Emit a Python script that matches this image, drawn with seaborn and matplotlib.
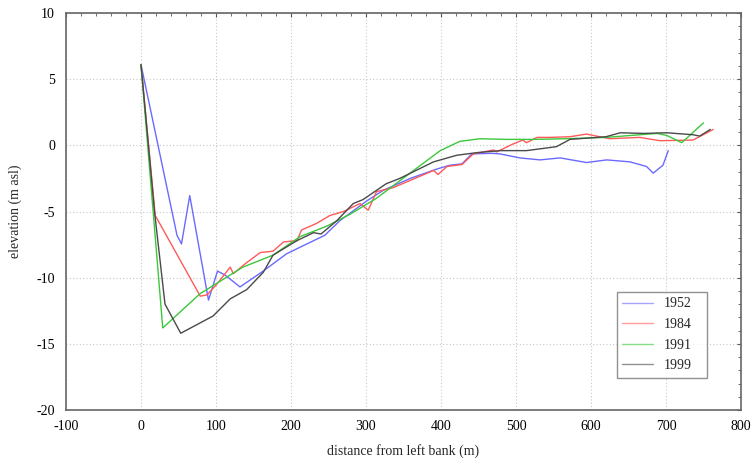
import numpy as np
import pandas as pd
import matplotlib
matplotlib.use("Agg")
import matplotlib.pyplot as plt
from matplotlib.ticker import MultipleLocator
import seaborn as sns

# Cross-section profiles: distance from left bank (m) and elevation (m asl)
x_1952 = [0, 48, 54, 65, 90, 102, 112, 132, 163, 194, 212, 234, 245, 265, 301, 323,
          359, 394, 412, 428, 441, 468, 479, 505, 532, 559, 594, 621, 652, 674, 683, 696, 703]
y_1952 = [6.1, -6.8, -7.45, -3.8, -11.7, -9.5, -9.8, -10.7, -9.5, -8.2, -7.7, -7.1, -6.8, -5.7,
          -4.2, -3.4, -2.5, -1.8, -1.5, -1.4, -0.65, -0.6, -0.65, -0.95, -1.1, -0.95, -1.3,
          -1.1, -1.25, -1.6, -2.1, -1.5, -0.4]

x_1984 = [0, 19, 79, 88, 101, 119, 123, 140, 159, 176, 190, 208, 214, 234, 252, 270, 292, 303,
          314, 336, 359, 390, 396, 408, 428, 443, 470, 474, 496, 509, 514, 528, 545, 572, 594,
          625, 665, 692, 736, 763]
y_1984 = [6.1, -5.3, -11.4, -11.3, -10.5, -9.2, -9.7, -8.9, -8.1, -8.0, -7.3, -7.2, -6.4, -5.9,
          -5.3, -5.0, -4.4, -4.9, -3.5, -3.2, -2.65, -1.9, -2.2, -1.6, -1.45, -0.65, -0.35, -0.5,
          0.1, 0.4, 0.2, 0.6, 0.6, 0.65, 0.85, 0.5, 0.6, 0.35, 0.4, 1.2]

x_1991 = [0, 29, 79, 136, 176, 212, 248, 279, 314, 354, 399, 425, 452, 487, 523, 567, 620,
          688, 701, 721, 750]
y_1991 = [6.1, -13.8, -11.2, -9.2, -8.3, -6.9, -6.1, -5.2, -4.0, -2.3, -0.4, 0.3, 0.5, 0.45,
          0.45, 0.5, 0.6, 0.9, 0.75, 0.2, 1.7]

x_1999 = [0, 18, 32, 53, 96, 119, 141, 163, 176, 208, 230, 240, 261, 283, 296, 327, 345, 390,
          421, 448, 479, 514, 554, 572, 620, 639, 670, 701, 736, 745, 759]
y_1999 = [6.1, -5.0, -12.0, -14.2, -12.9, -11.6, -10.9, -9.6, -8.3, -7.2, -6.6, -6.7, -5.7,
          -4.4, -4.1, -2.9, -2.5, -1.25, -0.75, -0.55, -0.4, -0.4, -0.1, 0.45, 0.65, 0.95, 0.9,
          0.95, 0.8, 0.7, 1.2]

years = ["1952", "1984", "1991", "1999"]
series = {"1952": (x_1952, y_1952), "1984": (x_1984, y_1984),
          "1991": (x_1991, y_1991), "1999": (x_1999, y_1999)}

frames = []
for yr in years:
    xs, ys = series[yr]
    frames.append(pd.DataFrame({"distance": xs, "elevation": ys, "year": yr}))
df = pd.concat(frames, ignore_index=True)

palette = {"1952": "#6a6aff", "1984": "#ff5a5a", "1991": "#3cc83c", "1999": "#4a4a4a"}

sns.set_theme(style="white")
plt.rcParams["font.family"] = ["Liberation Serif", "DejaVu Serif"]
plt.rcParams["axes.unicode_minus"] = False

fig = plt.figure(figsize=(7.54, 4.67), dpi=100)
ax = fig.add_axes([66 / 754, 1 - 410 / 467, (741 - 66) / 754, (410 - 13) / 467])

sns.lineplot(data=df, x="distance", y="elevation", hue="year", hue_order=years,
             palette=palette, sort=False, estimator=None, linewidth=1.0, ax=ax)

ax.set_xlim(-100, 800)
ax.set_ylim(-20, 10)
ax.xaxis.set_major_locator(MultipleLocator(100))
ax.xaxis.set_minor_locator(MultipleLocator(20))
ax.yaxis.set_major_locator(MultipleLocator(5))
ax.yaxis.set_minor_locator(MultipleLocator(1))
ax.grid(True, which="major", linestyle=(0, (1, 2)), color="#c8c8c8", linewidth=0.8)

ax.tick_params(which="both", direction="in", top=True, right=True, colors="#555555",
               labelcolor="black", labelsize=10)
ax.tick_params(which="major", length=3, width=0.8)
ax.tick_params(which="minor", length=2, width=0.6)
ax.tick_params(axis="x", which="major", pad=7)
ax.tick_params(axis="y", which="major", pad=8)
for s in ax.spines.values():
    s.set_color("#666666")
    s.set_linewidth(1.2)

ax.set_xlabel("distance from left bank (m)", fontsize=10, labelpad=8)
ax.set_ylabel("elevation (m asl)", fontsize=10, labelpad=10)

leg = ax.legend(title=None, loc="lower left", bbox_to_anchor=(0.816, 0.081, 0.134, 0.212),
                mode="expand", fontsize=10, frameon=True, fancybox=False,
                handlelength=2.2, borderaxespad=0, labelspacing=0.55)
leg.get_frame().set_edgecolor("#777777")
leg.get_frame().set_linewidth(1.0)
for h in leg.get_lines():
    h.set_alpha(0.6)

fig.savefig("out.png", dpi=100)
